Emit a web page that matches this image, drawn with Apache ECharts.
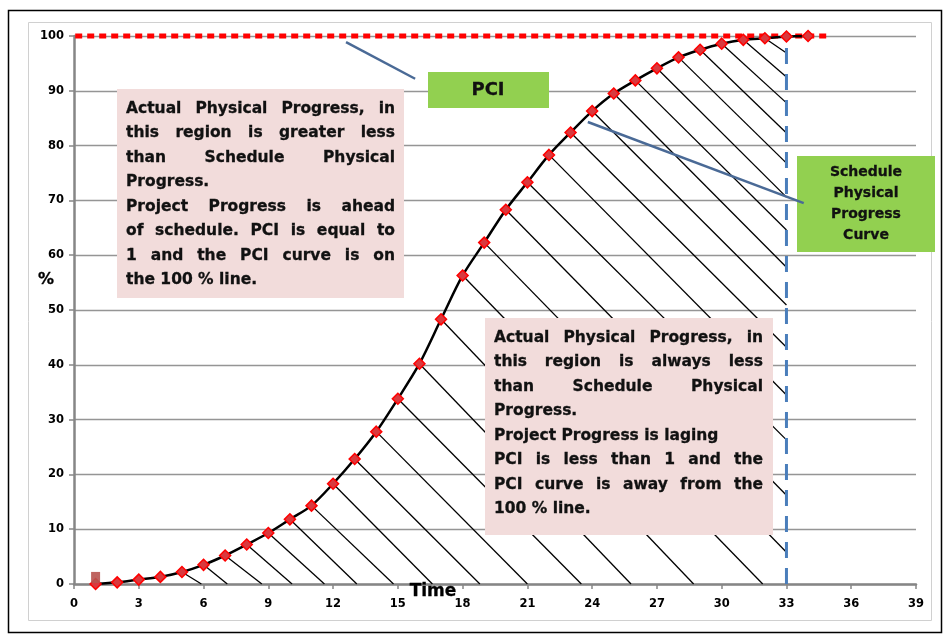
<!DOCTYPE html>
<html>
<head>
<meta charset="utf-8">
<script src="https://cdn.jsdelivr.net/npm/echarts@6/dist/echarts.min.js"></script>
<style>
  html, body { margin: 0; padding: 0; background: #fff; }
  #chart { width: 947px; height: 635px; }
</style>
</head>
<body>
<div id="chart"></div>
<script>
// schedule physical progress curve (%), one point per time step
const timeSteps = [1, 2, 3, 4, 5, 6, 7, 8, 9, 10, 11, 12, 13, 14, 15, 16, 17,
  18, 19, 20, 21, 22, 23, 24, 25, 26, 27, 28, 29, 30, 31, 32, 33, 34];
const scheduleProgress = [0, 0.3, 0.8, 1.3, 2.2, 3.5, 5.2, 7.2, 9.3, 11.8, 14.3,
  18.3, 22.8, 27.8, 33.8, 40.2, 48.3, 56.3, 62.3, 68.3, 73.3, 78.3, 82.4, 86.3,
  89.5, 91.9, 94.1, 96.1, 97.5, 98.6, 99.3, 99.6, 99.9, 100];

// PCI = 100 % line
const pciTime = [-0.5, 35];
const pciValue = [100, 100];

// vertical cut-off at time 33
const cutoffTime = [33, 33];
const cutoffValue = [0, 100];

// first actual point (square marker)
const actualTime = [1];
const actualValue = [1.2];

// hatching: lines leave the curve at a time step and end on the time axis ...
const axisHatchFrom = [5, 6, 7, 8, 9, 10, 11, 12, 13, 14, 15, 16, 17, 18];
const axisHatchTo = [5.9, 7.1, 8.7, 10.1, 11.6, 13.1, 14.8, 16.6, 18.8, 21.0, 23.5, 25.8, 28.7, 31.9];
// ... or on the cut-off line (value in %)
const edgeHatchFrom = [19, 20, 21, 22, 23, 24, 25, 26, 27, 28, 29, 30, 31, 32];
const edgeHatchTo = [5.8, 16.2, 26.3, 34.5, 43.2, 50.9, 57.8, 64.6, 70.6, 76.8, 82.3, 87.8, 92.5, 96.9];

// call-out pointers [time, %]
const pciPointer = [[12.6, 98.9], [15.8, 92.2]];
const schedulePointer = [[23.8, 84.3], [33.8, 69.5]];

const leftNote = [
  ["Actual Physical Progress, in", true],
  ["this region is greater  less", true],
  ["than Schedule Physical", true],
  ["Progress.", false],
  ["Project Progress is ahead", true],
  ["of schedule. PCI is equal to", true],
  ["1 and the PCI curve is on", true],
  ["the 100 % line.", false],
];
const rightNote = [
  ["Actual Physical Progress, in", true],
  ["this region is always  less", true],
  ["than Schedule Physical", true],
  ["Progress.", false],
  ["Project Progress is laging", false],
  ["PCI is less than 1 and the", true],
  ["PCI curve is away from the", true],
  ["100 % line.", false],
];
const scheduleLabel = ["Schedule", "Physical", "Progress", "Curve"];

const chart = echarts.init(document.getElementById("chart"));

const curveData = timeSteps.map((t, i) => [t, scheduleProgress[i]]);
const valueAt = t => scheduleProgress[timeSteps.indexOf(t)];

const hatchData = [];
axisHatchFrom.forEach((t, i) => {
  hatchData.push({ coords: [[t, valueAt(t)], [axisHatchTo[i], 0]] });
});
edgeHatchFrom.forEach((t, i) => {
  hatchData.push({ coords: [[t, valueAt(t)], [cutoffTime[0], edgeHatchTo[i]]] });
});

const FONT = "DejaVu Sans";
const noteFont = 'bold 15.5px "' + FONT + '"';
const measure = document.createElement("canvas").getContext("2d");

// heavy text: fill plus a thin stroke of the same colour
function heavy(text, font, extra) {
  return Object.assign({ text: text, font: font, fill: "#111", stroke: "#111", lineWidth: 0.3,
    verticalAlign: "middle", textVerticalAlign: "middle" }, extra || {});
}

function noteText(lines, left, width, top, step) {
  const out = [];
  measure.font = noteFont;
  lines.forEach(([line, justify], row) => {
    const y = top + row * step;
    const words = line.split(/\s+/);
    if (!justify || words.length < 2) {
      out.push({ type: "text", x: left, y: y, z: 12, style: heavy(line, noteFont) });
      return;
    }
    const widths = words.map(w => measure.measureText(w).width);
    const total = widths.reduce((a, b) => a + b, 0);
    const gap = (width - total) / (words.length - 1);
    let x = left;
    words.forEach((w, k) => {
      out.push({ type: "text", x: x, y: y, z: 12, style: heavy(w, noteFont) });
      x += widths[k] + gap;
    });
  });
  return out;
}

const centered = { align: "center", textAlign: "center" };

const graphics = [
  // outer frame
  { type: "rect", z: 0, silent: true, shape: { x: 8.5, y: 10.5, width: 933, height: 622 },
    style: { fill: null, stroke: "#000", lineWidth: 1.5 } },
  { type: "rect", z: 0, silent: true, shape: { x: 28.5, y: 22.5, width: 903, height: 598 },
    style: { fill: null, stroke: "#d0d0d0", lineWidth: 1 } },
  // note boxes
  { type: "rect", z: 10, shape: { x: 117, y: 89, width: 287, height: 209 },
    style: { fill: "#f2dcdb" } },
  { type: "rect", z: 10, shape: { x: 485, y: 318, width: 288, height: 217 },
    style: { fill: "#f2dcdb" } },
  // PCI box
  { type: "rect", z: 10, shape: { x: 428, y: 72, width: 121, height: 36 },
    style: { fill: "#92d050" } },
  { type: "text", z: 12, x: 488, y: 90,
    style: heavy("PCI", 'bold 18px "' + FONT + '"', centered) },
  // schedule curve box
  { type: "rect", z: 10, shape: { x: 797, y: 156, width: 138, height: 96 },
    style: { fill: "#92d050" } },
  { type: "text", z: 5, x: 433, y: 592,
    style: heavy("Time", 'bold 17px "' + FONT + '"', Object.assign({ fill: "#000", stroke: "#000" }, centered)) },
  { type: "text", z: 5, x: 46, y: 280,
    style: heavy("%", 'bold 16px "' + FONT + '"', Object.assign({ fill: "#000", stroke: "#000" }, centered)) },
];
scheduleLabel.forEach((s, i) => {
  graphics.push({ type: "text", z: 12, x: 866, y: 172 + i * 21.2,
    style: heavy(s, 'bold 14px "' + FONT + '"', centered) });
});
graphics.push(...noteText(leftNote, 126, 269, 108.5, 24.5));
graphics.push(...noteText(rightNote, 494, 269, 337.5, 24.5));

const option = {
  animation: false,
  backgroundColor: "#fff",
  grid: { left: 74, right: 31, top: 36, bottom: 51 },
  xAxis: {
    type: "value",
    min: 0,
    max: 39,
    interval: 3,
    axisLine: { lineStyle: { color: "#868686", width: 2.5 } },
    axisTick: { show: true, length: 5, lineStyle: { color: "#868686", width: 1.5 } },
    axisLabel: { color: "#000", fontFamily: FONT, fontWeight: "bold", fontSize: 11.5, margin: 14 },
    splitLine: { show: false },
  },
  yAxis: {
    type: "value",
    min: 0,
    max: 100,
    interval: 10,
    axisLine: { show: true, lineStyle: { color: "#868686", width: 2.5 } },
    axisTick: { show: true, length: 5, lineStyle: { color: "#868686", width: 1.5 } },
    axisLabel: { color: "#000", fontFamily: FONT, fontWeight: "bold", fontSize: 11.5, margin: 10 },
    splitLine: { lineStyle: { color: "#959595", width: 1.3 } },
  },
  graphic: graphics,
  series: [
    {
      type: "lines",
      coordinateSystem: "cartesian2d",
      silent: true,
      z: 1,
      lineStyle: { color: "#000", width: 1.3, opacity: 1 },
      data: hatchData,
    },
    {
      type: "line",
      silent: true,
      z: 2,
      clip: false,
      showSymbol: false,
      data: pciTime.map((t, i) => [t, pciValue[i]]),
      lineStyle: { color: "#ff0000", width: 5, type: [7, 5], cap: "butt" },
    },
    {
      type: "line",
      silent: true,
      z: 2,
      showSymbol: false,
      data: cutoffTime.map((t, i) => [t, cutoffValue[i]]),
      lineStyle: { color: "#4a7ebb", width: 3, type: [16, 10] },
    },
    {
      type: "line",
      z: 3,
      smooth: 0.3,
      data: curveData,
      symbol: "diamond",
      symbolSize: 11,
      lineStyle: { color: "#000", width: 2.5 },
      itemStyle: { color: "#d9393e", borderColor: "#ff0000", borderWidth: 1.5 },
    },
    {
      type: "scatter",
      z: 4,
      data: actualTime.map((t, i) => [t, actualValue[i]]),
      symbol: "rect",
      symbolSize: [9, 11],
      itemStyle: { color: "#b85450", opacity: 0.9 },
    },
    {
      type: "lines",
      coordinateSystem: "cartesian2d",
      silent: true,
      z: 20,
      lineStyle: { color: "#4a6a96", width: 2.5, opacity: 1 },
      data: [{ coords: pciPointer }, { coords: schedulePointer }],
    },
  ],
};

chart.setOption(option);
</script>
</body>
</html>
